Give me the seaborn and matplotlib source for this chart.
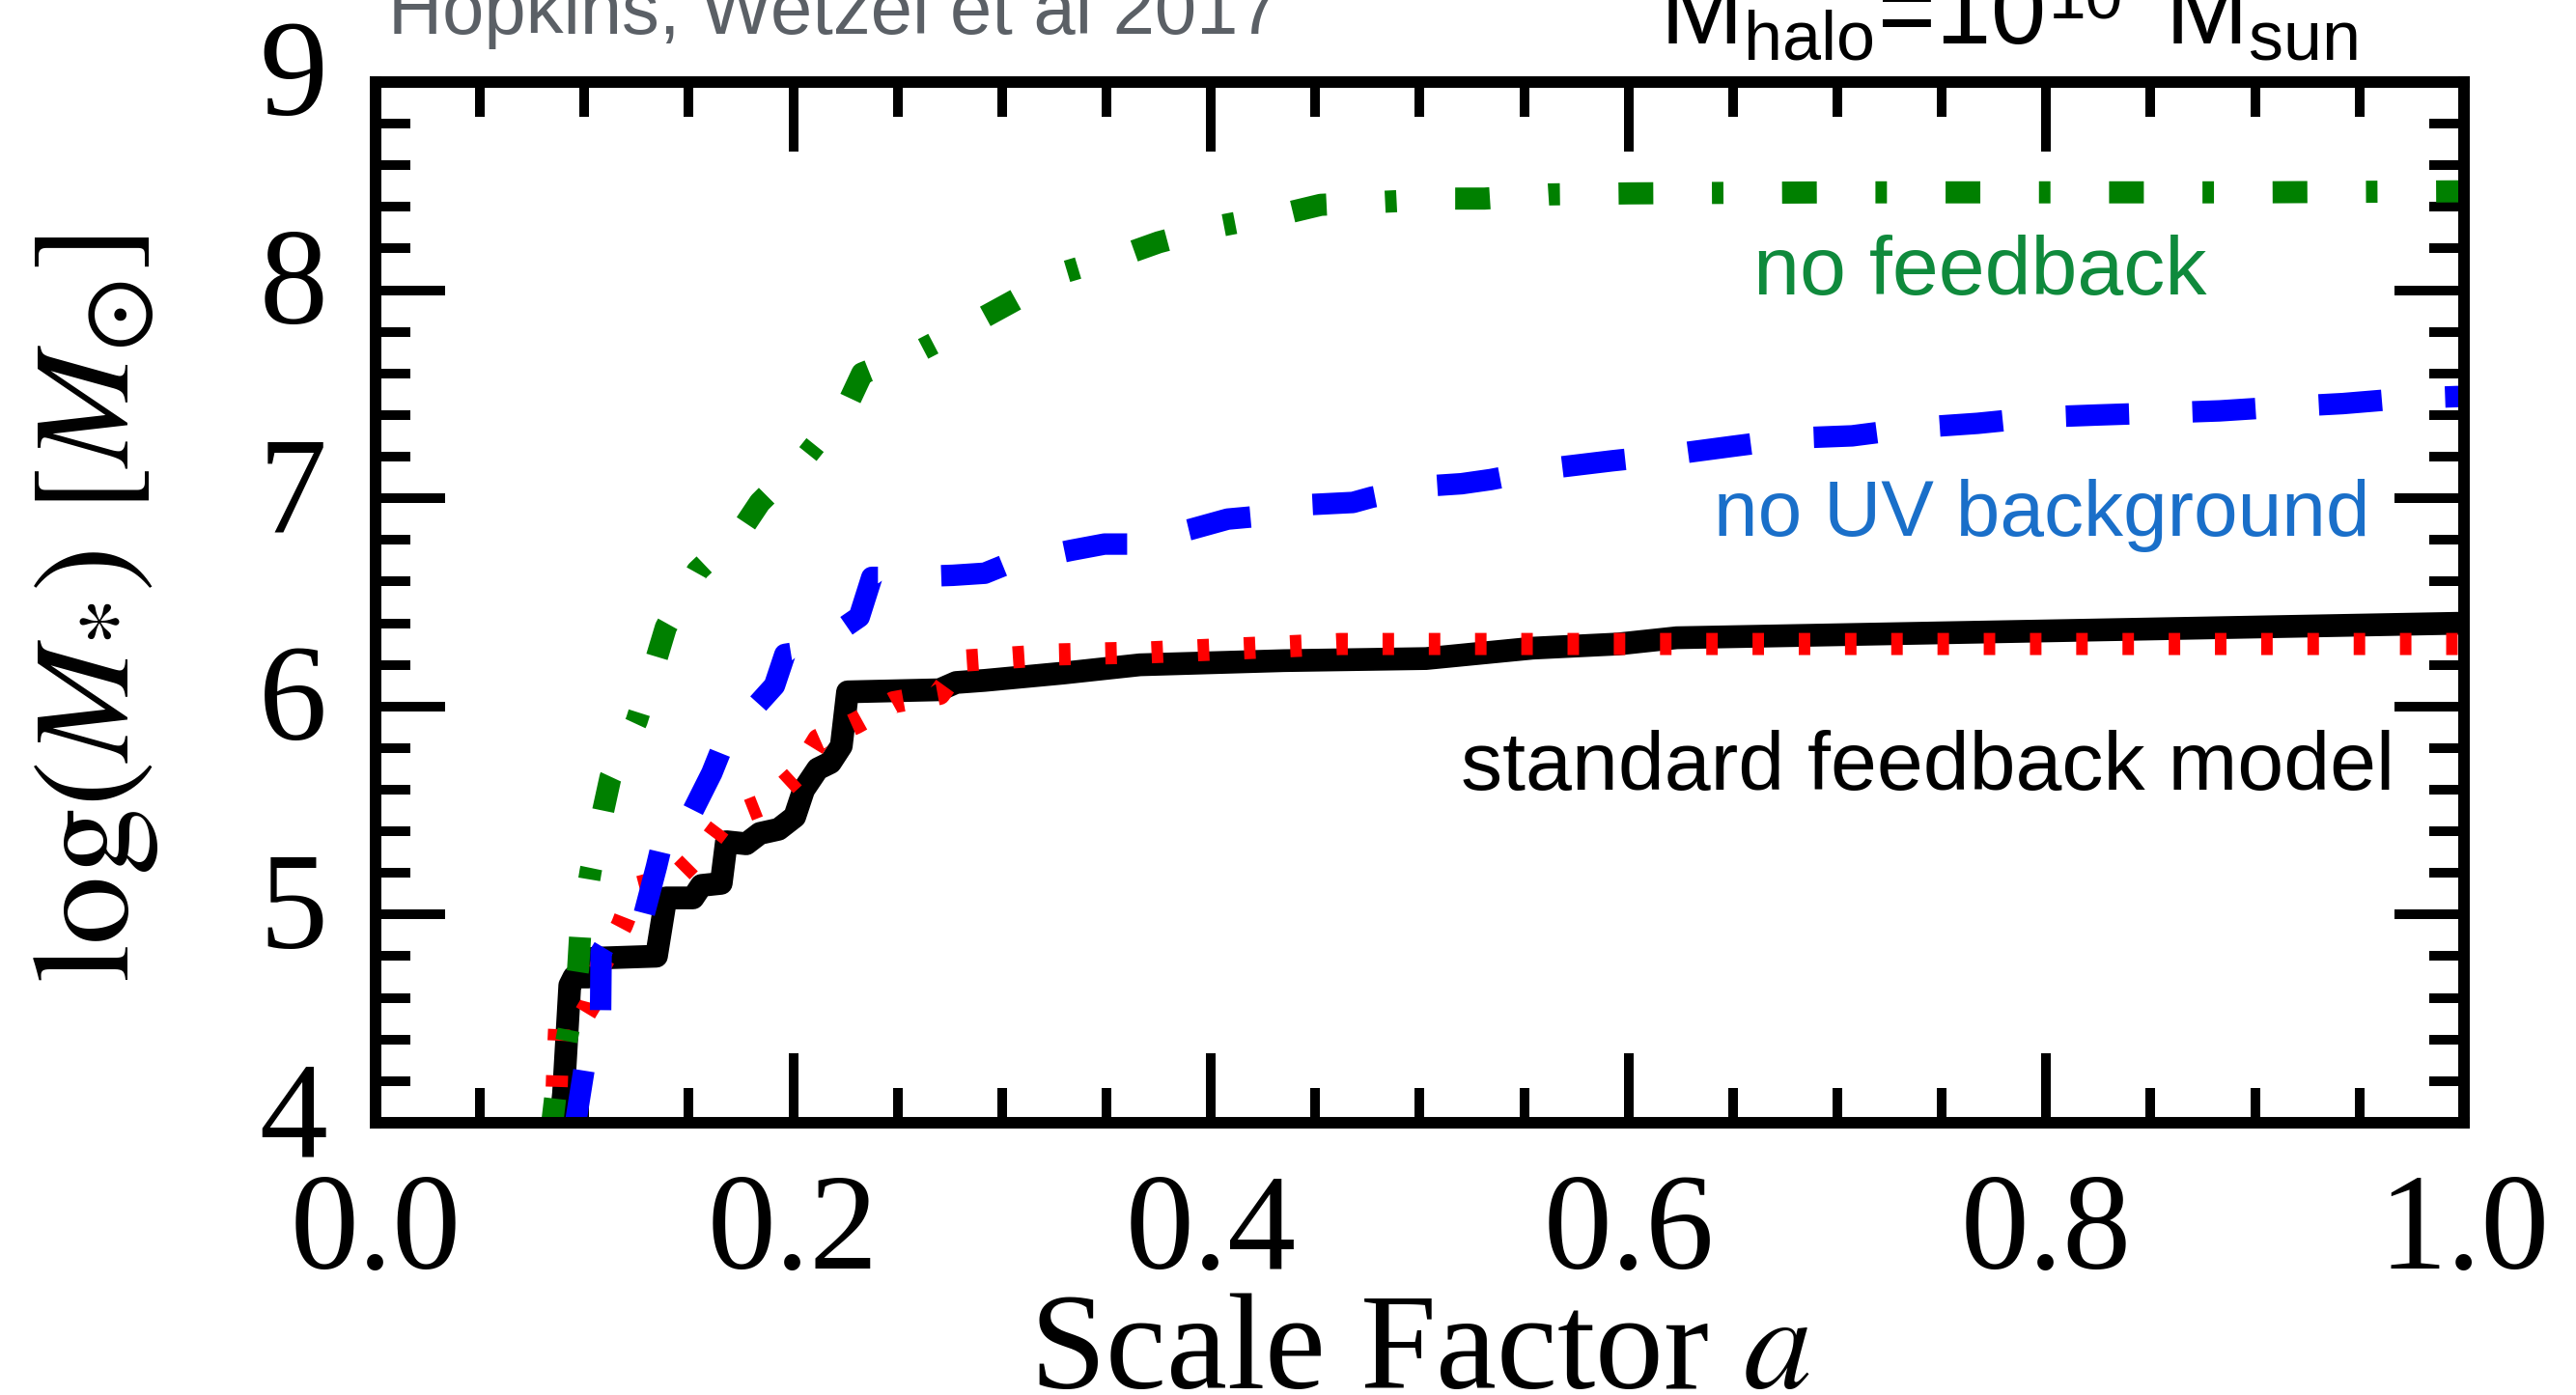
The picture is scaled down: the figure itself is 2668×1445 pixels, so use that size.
import numpy as np
import matplotlib
matplotlib.use("Agg")
import matplotlib.pyplot as plt
from matplotlib.ticker import MultipleLocator, FormatStrFormatter
import seaborn as sns

# Stellar mass growth of a 10^10 Msun halo for three physics variants
a_std = [0.088, 0.090, 0.093, 0.095, 0.102, 0.104, 0.1345, 0.139, 0.152, 0.156,
         0.1655, 0.168, 0.1775, 0.184, 0.193, 0.2007, 0.205, 0.2117, 0.2178, 0.223,
         0.226, 0.270, 0.278, 0.2917, 0.329, 0.366, 0.435, 0.503, 0.554, 0.595,
         0.623, 1.0]
m_std = [3.95, 4.14, 4.66, 4.70, 4.70, 4.79, 4.80, 5.08, 5.08, 5.14,
         5.15, 5.35, 5.34, 5.39, 5.41, 5.47, 5.60, 5.70, 5.73, 5.81,
         6.07, 6.08, 6.115, 6.125, 6.16, 6.20, 6.22, 6.23, 6.28, 6.30,
         6.33, 6.40]

a_red = [0.086, 0.087, 0.088, 0.100, 0.103, 0.108, 0.118, 0.125, 0.144, 0.156,
         0.168, 0.187, 0.2016, 0.212, 0.230, 0.248, 0.270, 0.2815, 0.327, 0.371,
         0.417, 0.462, 0.531, 1.0]
m_red = [3.95, 4.25, 4.48, 4.52, 4.57, 4.76, 4.95, 5.13, 5.18, 5.30,
         5.46, 5.535, 5.67, 5.84, 5.92, 6.02, 6.06, 6.22, 6.25, 6.26,
         6.28, 6.30, 6.30, 6.30]

a_nouv = [0.095, 0.0999, 0.1077, 0.108, 0.1146, 0.1267, 0.1345, 0.139, 0.148, 0.161,
          0.168, 0.1748, 0.191, 0.196, 0.2085, 0.2316, 0.2376, 0.247, 0.2765, 0.2917,
          0.304, 0.333, 0.349, 0.361, 0.390, 0.408, 0.419, 0.448, 0.468, 0.477,
          0.505, 0.520, 0.534, 0.563, 0.592, 0.620, 0.650, 0.681, 0.707, 0.738,
          0.767, 0.797, 0.824, 0.854, 0.883, 0.914, 0.942, 0.972, 1.0]
m_nouv = [3.95, 4.26, 4.48, 4.82, 4.93, 4.93, 5.23, 5.42, 5.42, 5.68,
          5.855, 5.92, 6.10, 6.25, 6.27, 6.43, 6.62, 6.62, 6.63, 6.64,
          6.69, 6.75, 6.78, 6.78, 6.85, 6.90, 6.91, 6.97, 6.98, 7.005,
          7.06, 7.07, 7.09, 7.145, 7.18, 7.21, 7.25, 7.29, 7.30, 7.34,
          7.36, 7.39, 7.40, 7.41, 7.42, 7.44, 7.455, 7.48, 7.49]

a_nofb = [0.084, 0.086, 0.0925, 0.097, 0.098, 0.103, 0.109, 0.1125, 0.125, 0.1345,
          0.139, 0.154, 0.176, 0.184, 0.206, 0.226, 0.233, 0.2617, 0.2885, 0.304,
          0.331, 0.361, 0.375, 0.405, 0.436, 0.4526, 0.4836, 0.514, 0.531, 0.562,
          0.60, 0.70, 0.80, 0.90, 1.0]
m_nofb = [3.95, 4.12, 4.45, 4.74, 4.91, 5.21, 5.50, 5.66, 5.93, 6.23,
          6.38, 6.65, 6.86, 6.98, 7.20, 7.45, 7.60, 7.715, 7.855, 7.94,
          8.09, 8.18, 8.23, 8.31, 8.37, 8.41, 8.425, 8.44, 8.44, 8.46,
          8.465, 8.47, 8.47, 8.47, 8.475]

x_ticks = [0.0, 0.2, 0.4, 0.6, 0.8, 1.0]
y_ticks = [4, 5, 6, 7, 8, 9]

sns.set_theme(style="ticks")
plt.rcParams["font.family"] = ["Liberation Serif", "DejaVu Serif"]
plt.rcParams["mathtext.fontset"] = "stix"
plt.rcParams["mathtext.rm"] = "Liberation Sans"
for key in ("text.color", "axes.labelcolor", "xtick.color", "ytick.color",
            "axes.edgecolor"):
    plt.rcParams[key] = "black"

fig = plt.figure(figsize=(26.68, 14.45), dpi=100)
ax = fig.add_axes([0.1458, 0.1952, 0.8107, 0.7460])

sns.lineplot(x=a_std, y=m_std, ax=ax, color="black", lw=17,
             sort=False, estimator=None, solid_joinstyle="round",
             solid_capstyle="round")
sns.lineplot(x=a_red, y=m_red, ax=ax, color="#ff0000", lw=16.5,
             sort=False, estimator=None, linestyle=(0, (0.52, 1.57)))
sns.lineplot(x=a_nouv, y=m_nouv, ax=ax, color="#0000ff", lw=16,
             sort=False, estimator=None, linestyle=(0, (2.95, 2.95)))
sns.lineplot(x=a_nofb, y=m_nofb, ax=ax, color="#008000", lw=16.5,
             sort=False, estimator=None,
             linestyle=(0, (1.57, 2.65, 0.52, 2.65)))

ax.set_xlim(0, 1)
ax.set_ylim(4, 9)
ax.set_xticks(x_ticks)
ax.set_yticks(y_ticks)
ax.xaxis.set_minor_locator(MultipleLocator(0.05))
ax.yaxis.set_minor_locator(MultipleLocator(0.2))
ax.xaxis.set_major_formatter(FormatStrFormatter("%.1f"))
ax.yaxis.set_major_formatter(FormatStrFormatter("%d"))
ax.tick_params(which="both", direction="in", top=True, right=True,
               width=7.2, color="black", labelcolor="black", labelsize=102)
ax.tick_params(which="major", length=52)
ax.tick_params(which="minor", length=26)
ax.tick_params(axis="x", pad=38)
ax.tick_params(axis="y", pad=36)
for lab in ax.get_yticklabels():
    lab.set_verticalalignment("center")
for s in ax.spines.values():
    s.set_visible(True)
    s.set_linewidth(8.6)
    s.set_color("black")

ax.set_xlabel("Scale Factor $a$", fontsize=102, color="black")
ax.set_ylabel(r"$\log(M_{*})\ [M_{\odot}]$", fontsize=103, color="black")
ax.xaxis.set_label_coords(0.5, -0.164)
ax.yaxis.set_label_coords(-0.103, 0.494)

sans = ["Liberation Sans", "DejaVu Sans"]
ax.text(0.8766, 7.98, "no feedback", color="#0f8a3c", fontsize=62,
        family=sans, ha="right", va="baseline")
ax.text(0.955, 6.82, "no UV background", color="#1a6fc9", fontsize=59,
        family=sans, ha="right", va="baseline")
ax.text(0.967, 5.60, "standard feedback model", color="black", fontsize=62,
        family=sans, ha="right", va="baseline")

W, H = 2668.0, 1445.0
fig.text(402 / W, 1 - 35 / H, "Hopkins, Wetzel et al 2017", color="#5b6066",
         fontsize=56, family=sans, ha="left", va="baseline")
# halo mass label: base, raised exponent, and solar-mass unit
fig.text(1719 / W, 1 - 45 / H, r"M$_{\mathrm{halo}}$=10", color="black",
         fontsize=74, family=sans, math_fontfamily="custom",
         ha="left", va="baseline")
fig.text(2122 / W, 1 - 20 / H, "10", color="black", fontsize=50,
         family=sans, ha="left", va="baseline")
fig.text(2242 / W, 1 - 45 / H, r"M$_{\mathrm{sun}}$", color="black",
         fontsize=74, family=sans, math_fontfamily="custom",
         ha="left", va="baseline")

fig.savefig("out.png", dpi=100, facecolor="white")
